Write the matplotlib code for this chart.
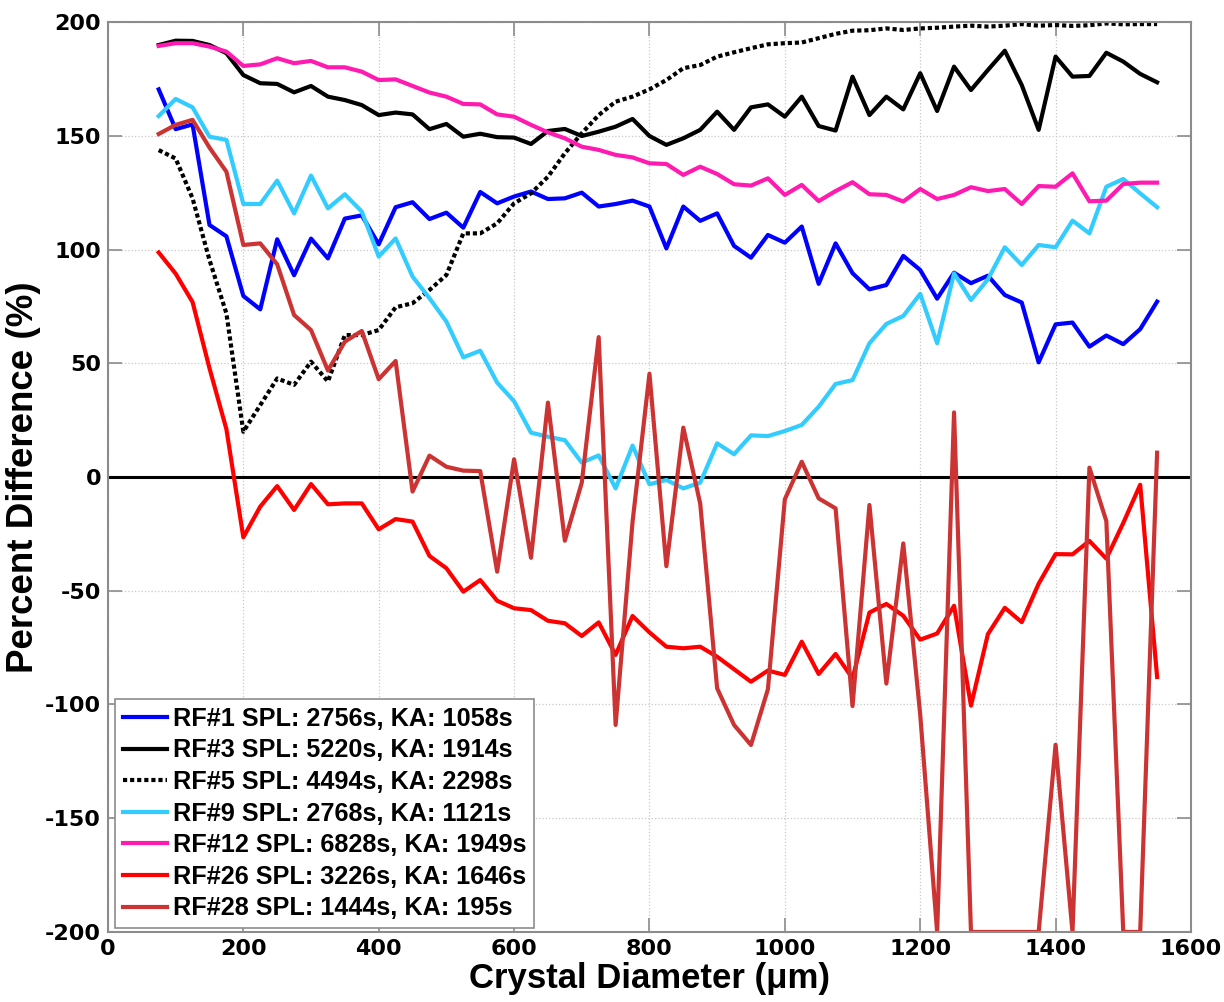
import matplotlib
matplotlib.use("Agg")
import matplotlib.pyplot as plt

plt.rcParams["axes.unicode_minus"] = False

# crystal diameter bins (um)
diameters = list(range(75, 1575, 25))

rf1 = [170.4, 152.9, 155.0, 110.8, 105.8, 79.6, 73.7, 104.5, 88.7, 104.8,
       96.1, 113.6, 115.0, 102.3, 118.6, 120.8, 113.4, 116.2, 109.6, 125.3,
       120.3, 123.3, 125.5, 122.2, 122.5, 125.0, 118.9, 120.0, 121.5, 118.9,
       100.5, 118.9, 112.6, 115.9, 101.6, 96.4, 106.4, 103.0, 110.1, 84.9,
       102.7, 89.6, 82.5, 84.4, 97.2, 91.0, 78.4, 89.8, 85.2, 88.5,
       80.0, 76.7, 50.4, 67.1, 67.9, 57.3, 62.2, 58.4, 65.0, 77.1]

rf3 = [189.9, 191.8, 191.7, 189.9, 186.3, 176.7, 173.1, 172.8, 169.1, 171.9,
       167.2, 165.7, 163.5, 159.1, 160.2, 159.4, 152.9, 155.2, 149.6, 150.9,
       149.4, 149.2, 146.4, 152.1, 153.0, 149.9, 151.8, 154.0, 157.4, 149.9,
       146.0, 148.9, 152.6, 160.6, 152.6, 162.5, 163.8, 158.4, 167.2, 154.3,
       152.3, 176.0, 159.1, 167.2, 161.6, 177.5, 160.9, 180.4, 170.1, 178.9,
       187.4, 172.3, 152.6, 184.8, 176.0, 176.3, 186.5, 182.6, 177.2, 173.5]

rf5 = [143.7, 140.0, 122.5, 95.4, 71.9, 19.9, 31.6, 43.3, 40.5, 50.7,
       42.0, 62.4, 62.4, 64.6, 74.6, 76.4, 82.2, 88.8, 107.1, 107.1,
       111.5, 120.3, 124.7, 132.0, 142.3, 151.1, 159.1, 165.0, 167.2, 170.4,
       174.5, 179.7, 181.1, 184.8, 186.7, 188.5, 190.2, 190.7, 191.0, 192.9,
       194.8, 196.2, 196.4, 197.2, 196.5, 197.2, 197.5, 198.0, 198.4, 198.0,
       198.4, 199.1, 198.4, 198.7, 198.3, 198.6, 199.4, 199.0, 199.1, 199.1]

rf9 = [158.7, 166.2, 162.5, 149.6, 148.2, 120.0, 120.0, 130.3, 115.9, 132.5,
       118.1, 124.3, 116.7, 96.9, 104.9, 88.1, 78.6, 68.3, 52.6, 55.5,
       41.5, 33.3, 19.5, 17.7, 16.2, 6.3, 9.5, -5.0, 13.8, -3.2,
       -1.3, -5.0, -2.5, 14.8, 10.0, 18.3, 18.0, 20.2, 22.9, 30.9,
       40.9, 42.6, 58.8, 67.3, 70.8, 80.5, 58.8, 89.5, 77.8, 86.9,
       101.0, 93.2, 102.0, 101.0, 112.7, 107.1, 127.6, 131.0, 124.7, 118.6]

rf12 = [189.5, 190.7, 190.7, 189.2, 187.0, 180.7, 181.4, 184.1, 181.9, 182.9,
        180.1, 180.1, 178.2, 174.5, 174.8, 171.9, 169.0, 167.2, 164.0, 163.8,
        159.4, 158.4, 154.8, 151.5, 148.9, 145.2, 143.8, 141.6, 140.5, 137.9,
        137.6, 132.8, 136.4, 133.2, 128.7, 128.1, 131.3, 124.0, 128.4, 121.3,
        125.7, 129.6, 124.3, 124.0, 121.1, 126.6, 122.2, 124.0, 127.4, 125.7,
        126.6, 120.0, 127.9, 127.6, 133.5, 121.2, 121.5, 128.8, 129.4, 129.4]

rf26 = [98.7, 89.4, 76.9, 47.8, 21.0, -26.5, -13.0, -4.0, -14.5, -3.1,
        -12.0, -11.6, -11.6, -23.0, -18.5, -19.6, -34.7, -40.1, -50.4, -45.3,
        -54.4, -57.7, -58.5, -63.2, -64.3, -69.9, -63.9, -78.2, -61.1, -68.3,
        -74.6, -75.3, -74.6, -79.0, -84.5, -90.0, -85.1, -87.0, -72.4, -86.6,
        -77.8, -88.5, -59.6, -55.8, -61.0, -71.5, -68.8, -56.6, -100.5, -69.1,
        -57.5, -63.8, -46.9, -33.9, -34.0, -28.1, -35.9, -20.2, -3.4, -87.9]

rf28 = [150.8, 154.8, 157.0, 144.8, 134.2, 102.0, 102.7, 93.5, 71.2, 64.6,
        46.8, 59.5, 64.2, 43.0, 51.0, -6.4, 9.4, 4.5, 2.8, 2.6,
        -41.6, 7.8, -35.5, 32.7, -28.0, -2.5, 61.5, -109.0, -19.8, 45.4,
        -39.2, 21.7, -11.7, -92.9, -109.0, -117.8, -93.3, -9.8, 6.7, -9.4,
        -13.8, -100.7, -12.3, -90.8, -29.2, -104.4, -200, 28.4, -200, -200,
        -200, -200, -200, -117.7, -200, 4.1, -19.4, -200, -200, 10.7]

labels = ["RF#1 SPL: 2756s, KA: 1058s",
          "RF#3 SPL: 5220s, KA: 1914s",
          "RF#5 SPL: 4494s, KA: 2298s",
          "RF#9 SPL: 2768s, KA: 1121s",
          "RF#12 SPL: 6828s, KA: 1949s",
          "RF#26 SPL: 3226s, KA: 1646s",
          "RF#28 SPL: 1444s, KA: 195s"]

series = [rf1, rf3, rf5, rf9, rf12, rf26, rf28]
colors = ["#0000ff", "#000000", "#000000", "#33ccff", "#ff1ab0", "#ff0000", "#cc3333"]
styles = ["-", "-", (0, (1, 0.7)), "-", "-", "-", "-"]

fig = plt.figure(figsize=(12.24, 10.02), dpi=100)
ax = fig.add_axes([0.0882, 0.0699, 0.8848, 0.9081])

ax.axhline(0, color="black", lw=2.2, zorder=1)

for ys, c, ls, lab in zip(series, colors, styles, labels):
    ax.plot(diameters, ys, color=c, linestyle=ls, lw=3.0, label=lab,
            dash_capstyle="butt", zorder=2)

ax.set_xlim(0, 1600)
ax.set_ylim(-200, 200)
ax.set_xticks(range(0, 1601, 200))
ax.set_yticks(range(-200, 201, 50))

ax.grid(True, linestyle=":", color="#c8c8c8", lw=0.9)
ax.set_axisbelow(True)

for sp in ax.spines.values():
    sp.set_color("#8c8c8c")
    sp.set_linewidth(1.5)

ax.tick_params(direction="in", length=10, width=1.2, color="#8c8c8c",
               top=True, right=True, pad=5)
for t in ax.get_xticklabels() + ax.get_yticklabels():
    t.set_family("DejaVu Sans")
    t.set_fontweight("bold")
    t.set_fontsize(16)

ax.set_xlabel("Crystal Diameter (\u03bcm)", family="Liberation Sans",
              fontweight="bold", fontsize=25, labelpad=2)
ax.set_ylabel("Percent Difference (%)", family="Liberation Sans",
              fontweight="bold", fontsize=26.5, labelpad=3)

leg = ax.legend(loc="lower left", bbox_to_anchor=(0.0065, 0.0044),
                borderaxespad=0, prop={"family": "Liberation Sans", "weight": "bold", "size": 18.2},
                handlelength=1.75, handletextpad=0.25, labelspacing=0.3,
                borderpad=0.3, fancybox=False, framealpha=1)
leg.get_frame().set_edgecolor("#8c8c8c")
leg.get_frame().set_linewidth(1.2)

fig.savefig("out.png", dpi=100)
